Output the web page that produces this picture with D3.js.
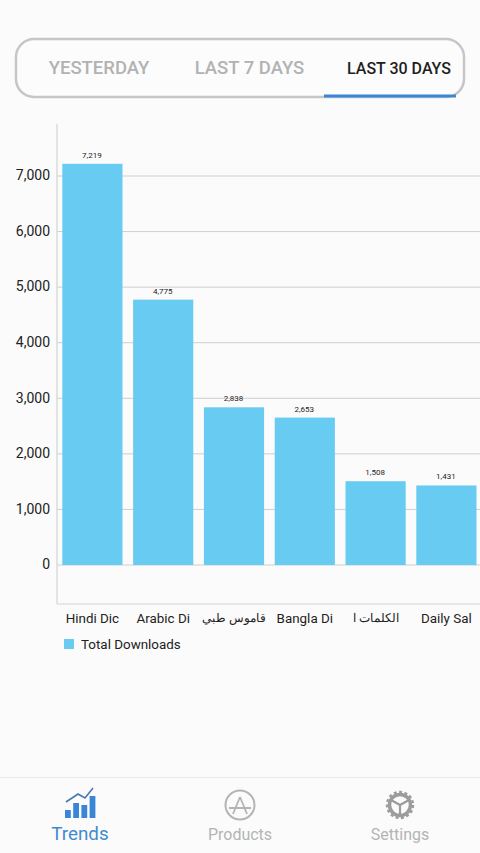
<!DOCTYPE html>
<html><head><meta charset="utf-8">
<script src="https://cdn.jsdelivr.net/npm/d3@7/dist/d3.min.js"></script>
<style>html,body{margin:0;padding:0;background:#fbfbfb;overflow:hidden}svg{display:block}text{font-family:Roboto,sans-serif}</style>
</head><body><svg id="c" width="480" height="853"></svg>
<script>
const categories = ["Hindi Dic","Arabic Di","قاموس طبي","Bangla Di","الكلمات ا","Daily Sal"];
const downloads = [7219,4775,2838,2653,1508,1431];
const yTicks = [0,1000,2000,3000,4000,5000,6000,7000];
const tabs = ["YESTERDAY","LAST 7 DAYS","LAST 30 DAYS"];
const navItems = ["Trends","Products","Settings"];
const legendLabel = "Total Downloads";
const trendBars = [1,2,3,4];

const svg = d3.select("#c");
const barColor = "#68cbf1", blue = "#3b85d6";
const x = d3.scaleBand().domain(categories).range([57,481.8]).paddingInner(0.15).paddingOuter(0.075);
const y = d3.scaleLinear().domain([0,7000]).range([565,176]);
const isArabic = d => /[\u0600-\u06FF]/.test(d);

// tabs
svg.append("rect").attr("x",16).attr("y",39).attr("width",448).attr("height",58).attr("rx",18)
  .attr("fill","#fcfcfc").attr("stroke","#c6c6c6").attr("stroke-width",2.5);
const tabX = d3.scaleOrdinal().domain(tabs).range([99,249.5,399]);
svg.selectAll(".tab").data(tabs).join("text").attr("x",d=>tabX(d)).attr("y",74)
  .attr("text-anchor","middle").attr("font-size",d=>d===tabs[2]?16:18.5).attr("font-weight",500)
  .attr("fill",d=>d===tabs[2]?"#1e1e1e":"#b2b2b2").text(d=>d);
svg.append("rect").attr("x",324).attr("y",94.5).attr("width",132).attr("height",3).attr("fill",blue);

// grid
svg.append("g").selectAll("line").data(yTicks).join("line")
  .attr("x1",57).attr("x2",480).attr("y1",d=>y(d)).attr("y2",d=>y(d))
  .attr("stroke","#cfcfcf").attr("stroke-width",1);

// axes
const yAxis = d3.axisLeft(y).tickValues(yTicks).tickSize(0).tickPadding(7).tickFormat(d3.format(","));
const gy = svg.append("g").attr("transform","translate(57,-0.7)").call(yAxis);
gy.select(".domain").remove();
gy.selectAll("text").attr("font-size",14).attr("fill","#222").style("font-family","Roboto,sans-serif");
svg.append("line").attr("x1",57).attr("x2",57).attr("y1",124).attr("y2",604).attr("stroke","#d4d4d4").attr("stroke-width",1.2);
const xAxis = d3.axisBottom(x).tickSize(0).tickPadding(9);
const gx = svg.append("g").attr("transform","translate(0,604)").call(xAxis);
gx.select(".domain").attr("stroke","#d4d4d4").attr("d","M57,0H480");
gx.selectAll("text").attr("font-size",d=>isArabic(d)?12:13.4).attr("fill","#222")
  .attr("dy",d=>isArabic(d)?"0.72em":"0.71em")
  .style("font-family","Roboto,'Noto Sans',sans-serif");

// bars
svg.append("g").selectAll("rect").data(downloads).join("rect")
  .attr("x",(d,i)=>x(categories[i])).attr("width",x.bandwidth())
  .attr("y",d=>y(d)).attr("height",d=>y(0)-y(d)).attr("fill",barColor);
svg.append("g").selectAll("text").data(downloads).join("text")
  .attr("x",(d,i)=>x(categories[i])+x.bandwidth()/2-0.5).attr("y",d=>y(d)-6)
  .attr("text-anchor","middle").attr("font-size",8).attr("fill","#222").text(d3.format(","));

// legend
svg.append("rect").attr("x",64).attr("y",639).attr("width",10).attr("height",10).attr("fill",barColor);
svg.append("text").attr("x",81).attr("y",649).attr("font-size",13.4).attr("fill","#222").text(legendLabel);

// nav
svg.append("line").attr("x1",0).attr("x2",480).attr("y1",777.5).attr("y2",777.5).attr("stroke","#eaeaea");
const navX = d3.scaleOrdinal().domain(navItems).range([80,240,400]);
svg.selectAll(".nav").data(navItems).join("text").attr("x",d=>navX(d)).attr("y",839.5)
  .attr("text-anchor","middle").attr("font-size",d=>d===navItems[0]?18.8:16)
  .attr("fill",d=>d===navItems[0]?"#3f8bd0":"#b4b4b4").text(d=>d);

// Trends icon
const ic = svg.append("g");
const trendTops = [810,803,805,796];
ic.selectAll("rect").data(trendBars).join("rect")
  .attr("x",d=>65+(d-1)*8.2).attr("width",5.8)
  .attr("y",d=>trendTops[d-1]).attr("height",d=>818-trendTops[d-1]).attr("fill",blue);
ic.append("path").attr("d","M66,802L78,794L85,798L93,788").attr("fill","none").attr("stroke","#4a78b0").attr("stroke-width",1.6);

// Products icon
const p = svg.append("g").attr("transform","translate(240,805)");
p.append("circle").attr("r",14.5).attr("fill","none").attr("stroke","#b4b4b4").attr("stroke-width",2);
p.append("path").attr("d","M-7,9L0,-8M7,9L0,-8M-11,3H11").attr("fill","none").attr("stroke","#b4b4b4").attr("stroke-width",1.8);

// Settings icon
const s = svg.append("g").attr("transform","translate(400,805)");
s.append("circle").attr("r",10.5).attr("fill","none").attr("stroke","#9c9c9c").attr("stroke-width",3.5);
s.append("circle").attr("r",13).attr("fill","none").attr("stroke","#9c9c9c").attr("stroke-width",2.4).attr("stroke-dasharray","3 2.45");
s.append("path").attr("d","M0,0L-9,-5M0,0L9,-5M0,0V10").attr("stroke","#9c9c9c").attr("stroke-width",2.2).attr("fill","none");
</script></body></html>
